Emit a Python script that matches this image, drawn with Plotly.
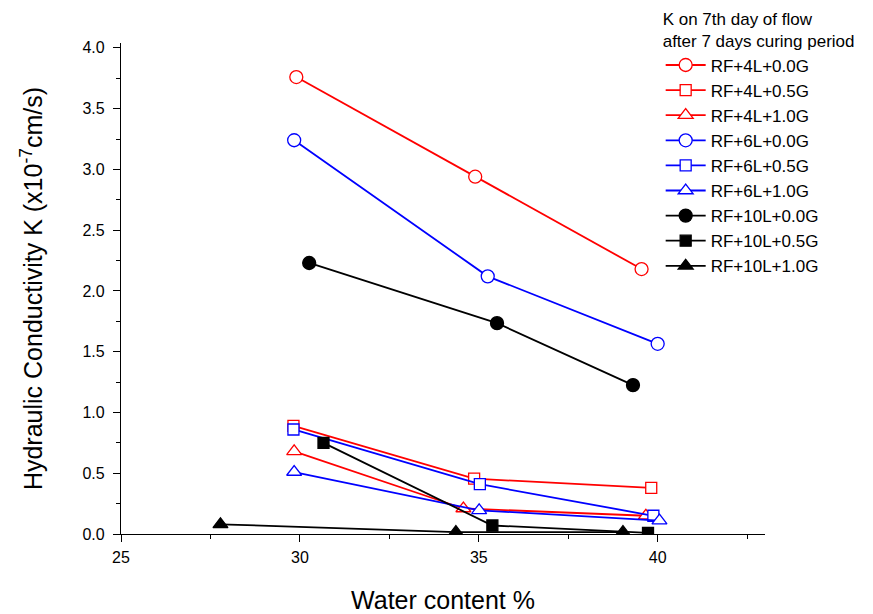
import plotly.graph_objects as go

# ---- data ----
names = ["RF+4L+0.0G", "RF+4L+0.5G", "RF+4L+1.0G",
         "RF+6L+0.0G", "RF+6L+0.5G", "RF+6L+1.0G",
         "RF+10L+0.0G", "RF+10L+0.5G", "RF+10L+1.0G"]

x_4L_00 = [29.9, 34.9, 39.55]
y_4L_00 = [3.76, 2.94, 2.18]
x_4L_05 = [29.82, 34.87, 39.82]
y_4L_05 = [0.89, 0.455, 0.38]
x_4L_10 = [29.84, 34.57, 39.67]
y_4L_10 = [0.68, 0.21, 0.15]

x_6L_00 = [29.84, 35.25, 40.0]
y_6L_00 = [3.24, 2.12, 1.565]
x_6L_05 = [29.82, 35.03, 39.88]
y_6L_05 = [0.86, 0.41, 0.15]
x_6L_10 = [29.84, 35.01, 40.05]
y_6L_10 = [0.51, 0.195, 0.11]

x_10L_00 = [30.26, 35.51, 39.31]
y_10L_00 = [2.23, 1.735, 1.225]
x_10L_05 = [30.66, 35.38, 39.73]
y_10L_05 = [0.75, 0.07, 0.01]
x_10L_10 = [27.78, 34.36, 39.03]
y_10L_10 = [0.08, 0.015, 0.015]

x_ticks = [25, 30, 35, 40]
y_ticks = [0, 0.5, 1, 1.5, 2, 2.5, 3, 3.5, 4]

xs = [x_4L_00, x_4L_05, x_4L_10, x_6L_00, x_6L_05, x_6L_10, x_10L_00, x_10L_05, x_10L_10]
ys = [y_4L_00, y_4L_05, y_4L_10, y_6L_00, y_6L_05, y_6L_10, y_10L_00, y_10L_05, y_10L_10]
colors = ["#FF0000"] * 3 + ["#0000FF"] * 3 + ["#000000"] * 3
symbols = ["circle", "square", "triangle-up"] * 3
filled = [False] * 6 + [True] * 3
sizes = {"circle": 13, "square": 11, "triangle-up": 13}

FONT = "Arial, Liberation Sans, sans-serif"

fig = go.Figure()
for n, x, y, c, s, f in zip(names, xs, ys, colors, symbols, filled):
    fig.add_trace(go.Scatter(
        x=x, y=y, name=n, mode="lines+markers",
        line=dict(color=c, width=1.8),
        marker=dict(symbol=s, size=sizes[s], color=c if f else "white",
                    line=dict(color=c, width=1.3)),
    ))

fig.update_layout(
    width=873, height=614,
    paper_bgcolor="white", plot_bgcolor="white",
    margin=dict(l=121, r=108, t=43, b=80, autoexpand=False),
    font=dict(family=FONT, size=16, color="black"),
    legend=dict(
        x=0.838, y=1.081, xanchor="left", yanchor="top",
        bgcolor="rgba(0,0,0,0)",
        font=dict(size=17),
        title=dict(text="K on 7th day of flow<br>after 7 days curing period", font=dict(size=17)),
        tracegroupgap=0, itemwidth=40,
    ),
    xaxis=dict(
        range=[25, 43], tickmode="array", tickvals=x_ticks,
        showline=True, linecolor="black", linewidth=1.3,
        ticks="outside", ticklen=7, tickwidth=1.3, tickcolor="black",
        minor=dict(tickvals=[27.5, 32.5, 37.5, 42.5], ticks="outside", ticklen=4, tickwidth=1.3, tickcolor="black"),
        showgrid=False, zeroline=False, mirror=False,
        tickfont=dict(size=16), ticklabelstandoff=2,
        title=dict(text="Water content %", font=dict(size=25), standoff=26),
    ),
    yaxis=dict(
        range=[0, 4.04], tickmode="array", tickvals=y_ticks,
        tickformat=".1f",
        showline=True, linecolor="black", linewidth=1.3,
        ticks="outside", ticklen=7, tickwidth=1.3, tickcolor="black",
        minor=dict(tickvals=[0.25, 0.75, 1.25, 1.75, 2.25, 2.75, 3.25, 3.75], ticks="outside", ticklen=4, tickwidth=1.3, tickcolor="black"),
        showgrid=False, zeroline=False, mirror=False,
        tickfont=dict(size=16), ticklabelstandoff=5,
        title=dict(text="Hydraulic Conductivity K (x10<sup>-7</sup>cm/s)", font=dict(size=25), standoff=32),
    ),
)

fig.write_html("out.html", config={"displayModeBar": False},
               post_script="document.body.style.margin='0';")
